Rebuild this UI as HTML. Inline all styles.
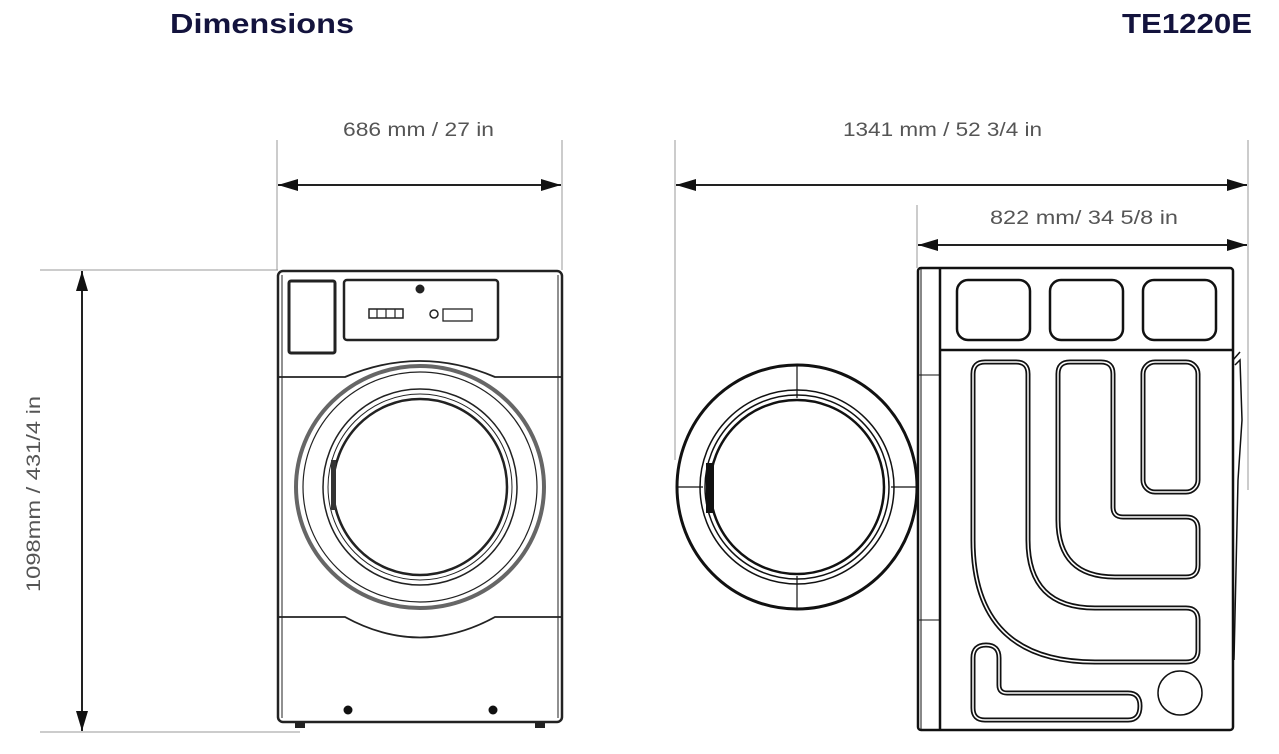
<!DOCTYPE html>
<html><head><meta charset="utf-8"><style>
html,body{margin:0;padding:0;background:#fff;}
body{width:1279px;height:754px;overflow:hidden;position:relative;}
</style></head><body>
<svg width="1279" height="754" viewBox="0 0 1279 754" xmlns="http://www.w3.org/2000/svg" style="position:absolute;left:0;top:0">
<defs>
<marker id="a" viewBox="0 0 20 12" refX="20" refY="6" markerWidth="20" markerHeight="12" markerUnits="userSpaceOnUse" orient="auto-start-reverse"><path d="M0,0 L20,6 L0,12 Z" fill="#111"/></marker>
</defs>
<text x="170" y="33" textLength="184" lengthAdjust="spacingAndGlyphs" font-family="Liberation Sans, sans-serif" font-weight="bold" font-size="28" fill="#13133d">Dimensions</text>
<text x="1122" y="33" textLength="130" lengthAdjust="spacingAndGlyphs" font-family="Liberation Sans, sans-serif" font-weight="bold" font-size="28" fill="#13133d">TE1220E</text>

<g font-family="Liberation Sans, sans-serif" font-size="19" fill="#555">
<text x="343" y="136" textLength="151" lengthAdjust="spacingAndGlyphs">686 mm / 27 in</text>
<text x="843" y="136" textLength="199" lengthAdjust="spacingAndGlyphs">1341 mm / 52 3/4 in</text>
<text x="990" y="224" textLength="188" lengthAdjust="spacingAndGlyphs">822 mm/ 34 5/8 in</text>
<text transform="translate(40,592) rotate(-90)" textLength="196" lengthAdjust="spacingAndGlyphs">1098mm / 431/4 in</text>
</g>

<g stroke="#999" stroke-width="1" fill="none">
<line x1="277" y1="140" x2="277" y2="270"/>
<line x1="562" y1="140" x2="562" y2="270"/>
<line x1="40" y1="270" x2="278" y2="270"/>
<line x1="40" y1="732" x2="300" y2="732"/>
<line x1="675" y1="140" x2="675" y2="460"/>
<line x1="1248" y1="140" x2="1248" y2="490"/>
<line x1="917" y1="205" x2="917" y2="268"/>
</g>
<g stroke="#222" stroke-width="2" fill="none">
<line x1="278" y1="185" x2="561" y2="185" marker-start="url(#a)" marker-end="url(#a)"/>
<line x1="82" y1="271" x2="82" y2="731" marker-start="url(#a)" marker-end="url(#a)"/>
<line x1="676" y1="185" x2="1247" y2="185" marker-start="url(#a)" marker-end="url(#a)"/>
<line x1="918" y1="245" x2="1247" y2="245" marker-start="url(#a)" marker-end="url(#a)"/>
</g>

<!-- front view -->
<g stroke="#222" fill="none">
<rect x="278" y="271" width="284" height="451" rx="5" stroke-width="2.5"/>
<line x1="282" y1="275" x2="282" y2="718" stroke-width="1"/>
<line x1="558" y1="275" x2="558" y2="718" stroke-width="1"/>
<rect x="289" y="281" width="46" height="72" rx="2" stroke-width="3"/>
<rect x="344" y="280" width="154" height="60" rx="3" stroke-width="2.5"/>
<circle cx="420" cy="289" r="4" fill="#222"/>
<rect x="369" y="309" width="34" height="9" stroke-width="1.5"/>
<line x1="377" y1="309" x2="377" y2="318" stroke-width="1.2"/><line x1="386" y1="309" x2="386" y2="318" stroke-width="1.2"/><line x1="395" y1="309" x2="395" y2="318" stroke-width="1.2"/>
<circle cx="434" cy="314" r="4" stroke-width="1.5"/>
<rect x="443" y="309" width="29" height="12" stroke-width="1.3"/>
<path d="M278,377 H345 Q420,345 495,377 H562" stroke-width="1.8"/>
<path d="M278,617 H345 Q420,658 495,617 H562" stroke-width="1.8"/>
<ellipse cx="420" cy="487" rx="124" ry="121" stroke-width="4" stroke="#666"/>
<ellipse cx="420" cy="487" rx="117" ry="115" stroke-width="1.2"/>
<ellipse cx="420" cy="487" rx="97" ry="98" stroke-width="1.5"/>
<ellipse cx="420" cy="487" rx="92" ry="93" stroke-width="1"/>
<ellipse cx="420" cy="487" rx="87" ry="88" stroke-width="2.5"/>
<rect x="331" y="460" width="5" height="50" fill="#333" stroke="none"/>
<circle cx="348" cy="710" r="4.5" fill="#111" stroke="none"/>
<circle cx="493" cy="710" r="4.5" fill="#111" stroke="none"/>
<rect x="295" y="722" width="10" height="6" fill="#222" stroke="none"/>
<rect x="535" y="722" width="10" height="6" fill="#222" stroke="none"/>
</g>

<!-- side view door -->
<g stroke="#111" fill="none">
<ellipse cx="797" cy="487" rx="120" ry="122" stroke-width="3"/>
<circle cx="797" cy="487" r="97" stroke-width="1.5"/>
<circle cx="797" cy="487" r="92" stroke-width="1.5"/>
<circle cx="797" cy="487" r="87" stroke-width="2.5"/>
<line x1="797" y1="365" x2="797" y2="398" stroke-width="1.2"/>
<line x1="797" y1="576" x2="797" y2="609" stroke-width="1.2"/>
<line x1="677" y1="487" x2="703" y2="487" stroke-width="1.2"/>
<line x1="891" y1="487" x2="917" y2="487" stroke-width="1.2"/>
<rect x="706" y="463" width="8" height="50" fill="#111" stroke="none"/>
</g>

<!-- side view body -->
<g stroke="#111" fill="none">
<rect x="918" y="268" width="315" height="462" rx="3" stroke-width="2.5"/>
<line x1="940" y1="268" x2="940" y2="730" stroke-width="2.5"/>
<line x1="921" y1="268" x2="921" y2="730" stroke-width="1"/>
<line x1="918" y1="375" x2="940" y2="375" stroke-width="1"/>
<line x1="918" y1="620" x2="940" y2="620" stroke-width="1"/>
<line x1="940" y1="350" x2="1233" y2="350" stroke-width="2.5"/>
<rect x="957" y="280" width="73" height="60" rx="11" stroke-width="2.5"/>
<rect x="1050" y="280" width="73" height="60" rx="11" stroke-width="2.5"/>
<rect x="1143" y="280" width="73" height="60" rx="11" stroke-width="2.5"/>
<path d="M1233,360 L1240,352 M1235,365 L1240,360 L1242,420 L1238,480 L1234,660" stroke-width="1.5"/>
<g stroke-width="5" stroke="#111">
<path d="M985,362 H1016 Q1028,362 1028,374 V540 Q1028,608 1095,608 H1186 Q1198,608 1198,620 V650 Q1198,662 1186,662 H1095 Q973,662 973,540 V374 Q973,362 985,362 Z"/>
<path d="M1070,362 H1101 Q1113,362 1113,374 V507 Q1113,517 1123,517 H1186 Q1198,517 1198,529 V565 Q1198,577 1186,577 H1115 Q1058,577 1058,520 V374 Q1058,362 1070,362 Z"/>
<rect x="1143" y="362" width="55" height="130" rx="12"/>
<path d="M986,645 Q999,645 999,658 V685 Q999,693 1007,693 H1128 Q1140,693 1140,706 Q1140,720 1128,720 H985 Q973,720 973,708 V658 Q973,645 986,645 Z"/>
</g>
<g stroke-width="1.5" stroke="#fff">
<path d="M985,362 H1016 Q1028,362 1028,374 V540 Q1028,608 1095,608 H1186 Q1198,608 1198,620 V650 Q1198,662 1186,662 H1095 Q973,662 973,540 V374 Q973,362 985,362 Z"/>
<path d="M1070,362 H1101 Q1113,362 1113,374 V507 Q1113,517 1123,517 H1186 Q1198,517 1198,529 V565 Q1198,577 1186,577 H1115 Q1058,577 1058,520 V374 Q1058,362 1070,362 Z"/>
<rect x="1143" y="362" width="55" height="130" rx="12"/>
<path d="M986,645 Q999,645 999,658 V685 Q999,693 1007,693 H1128 Q1140,693 1140,706 Q1140,720 1128,720 H985 Q973,720 973,708 V658 Q973,645 986,645 Z"/>
</g>
<circle cx="1180" cy="693" r="22" stroke-width="1.5"/>
</g>
</svg>
</body></html>
